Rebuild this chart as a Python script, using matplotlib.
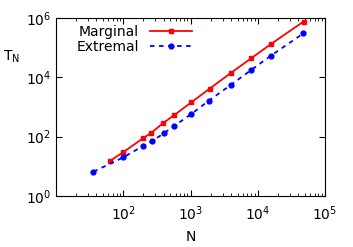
import matplotlib
matplotlib.use("Agg")
import matplotlib.pyplot as plt
from matplotlib.ticker import LogLocator, NullLocator, NullFormatter

marg_N = [64, 100, 195, 260, 395, 570, 1030, 1930, 4050, 7950, 15600, 48000]
marg_T = [15.4, 30, 87, 134, 291, 527, 1440, 4170, 14400, 43500, 131000, 760000]
ext_N = [36, 100, 195, 265, 404, 565, 1016, 1884, 4045, 7850, 15700, 47500]
ext_T = [6.6, 20, 48, 69, 131, 225, 570, 1650, 5690, 17200, 53600, 301000]

fig = plt.figure(figsize=(3.53, 2.47), dpi=100)
ax = fig.add_axes([56/353, 1-196/247, (325-56)/353, (196-18)/247])
ax.plot(marg_N, marg_T, '-', color='#ff0000', lw=1.3, marker='s', ms=3.5, label='Marginal')
ax.plot(ext_N, ext_T, '--', color='#0000ff', lw=1.3, marker='o', ms=3.5, label='Extremal', dashes=(2.5, 2.5))
ax.set_xscale('log')
ax.set_yscale('log')
ax.set_xlim(10, 1e5)
ax.set_ylim(1, 1e6)
ax.set_xticks([1e2, 1e3, 1e4, 1e5])
ax.xaxis.set_minor_locator(LogLocator(base=10, subs=range(2, 10)))
ax.xaxis.set_minor_formatter(NullFormatter())
ax.set_yticks([1, 1e2, 1e4, 1e6])
ax.yaxis.set_minor_locator(NullLocator())
ax.tick_params(which='both', direction='in', top=True, right=True, labelsize=10)
ax.tick_params(axis='x', which='major', pad=6)
ax.tick_params(which='major', length=4)
ax.tick_params(which='minor', length=2)
ax.set_xlabel('N', fontsize=10, va='center')
ax.xaxis.set_label_coords(0.5, -0.23)
ax.set_ylabel(r'T$_\mathregular{N}$', fontsize=10, rotation=0, va='center', ha='center')
ax.yaxis.set_label_coords(-0.165, 0.78)
leg = ax.legend(loc='upper left', markerfirst=False, frameon=False, fontsize=10,
                handlelength=3, borderaxespad=0.1, labelspacing=0.1, bbox_to_anchor=(0.05, 1.0))
for t in leg.get_texts():
    t.set_ha('right')
fig.savefig('out.png', dpi=100)
